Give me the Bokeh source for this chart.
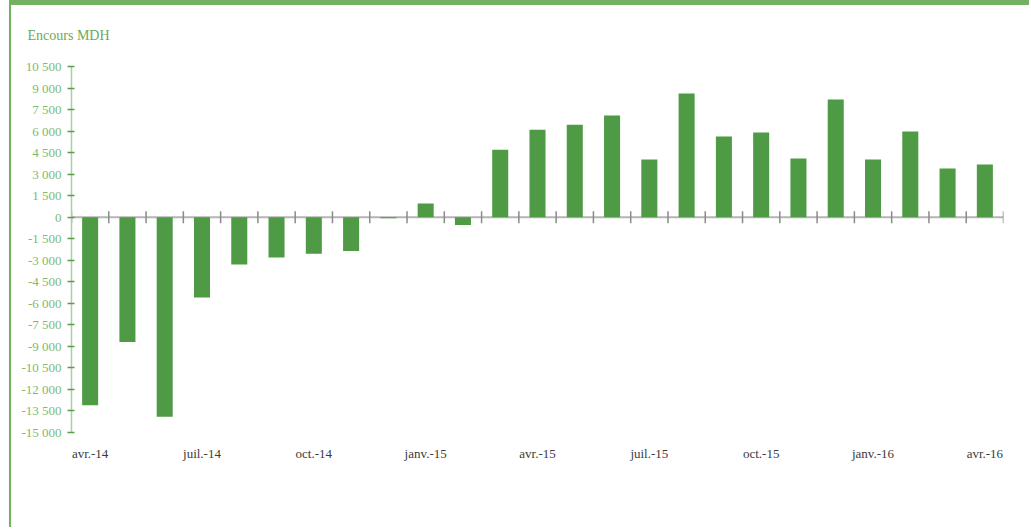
import math
from bokeh.plotting import figure
from bokeh.models import Range1d, FixedTicker, CustomJSTickFormatter, Span, ColumnDataSource
from bokeh.embed import file_html
from bokeh.resources import INLINE

months = ["avr.-14", "mai-14", "juin-14", "juil.-14", "août-14", "sept.-14", "oct.-14",
          "nov.-14", "déc.-14", "janv.-15", "févr.-15", "mars-15", "avr.-15", "mai-15",
          "juin-15", "juil.-15", "août-15", "sept.-15", "oct.-15", "nov.-15", "déc.-15",
          "janv.-16", "févr.-16", "mars-16", "avr.-16"]
encours = [-13100, -8700, -13900, -5600, -3300, -2800, -2550, -2350, -80, 950, -550,
           4700, 6100, 6450, 7090, 4020, 8620, 5620, 5900, 4090, 8200, 4020, 5970, 3390, 3670]
y_ticks = [-15000, -13500, -12000, -10500, -9000, -7500, -6000, -4500, -3000, -1500,
           0, 1500, 3000, 4500, 6000, 7500, 9000, 10500]
label_every = 3

n = len(months)
centers = [i + 0.5 for i in range(n)]
src = ColumnDataSource(dict(x=centers, top=encours, m=months))

p = figure(width=1020, height=527, output_backend="svg", toolbar_location=None,
           x_range=Range1d(0, n), y_range=Range1d(y_ticks[0], y_ticks[-1]),
           min_border_left=60, min_border_right=28, min_border_top=61, min_border_bottom=100,
           title="Encours MDH")
p.styles = {"margin-left": "9px", "border-top": "5px solid #72b062",
            "border-left": "2px solid #72b062"}
p.outline_line_color = None
p.xgrid.visible = False
p.ygrid.visible = False
p.background_fill_color = "white"
p.border_fill_color = "white"

p.title.text_font = "Liberation Serif"
p.title.text_font_size = "14px"
p.title.text_font_style = "normal"
p.title.text_color = "#6aaa5a"
p.title.align = "left"
p.title.vertical_align = "top"
p.title.offset = -44
p.title.standoff = 44

zero = Span(location=0, dimension="width", line_color="#b5b5b5", line_width=2, level="underlay")
p.add_layout(zero)
p.scatter(x=list(range(n + 1)), y=[0] * (n + 1), marker="dash", angle=math.pi / 2,
          size=12, line_color="#8a8a8a", line_width=1.5)

p.vbar(x="x", top="top", bottom=0, width=0.43, source=src, fill_color="#4f9a44",
       line_color=None)

# x axis
p.xaxis.ticker = FixedTicker(ticks=[centers[i] for i in range(0, n, label_every)])
p.xaxis.major_label_overrides = {centers[i]: months[i] for i in range(0, n, label_every)}
p.xaxis.axis_line_color = None
p.xaxis.major_tick_line_color = None
p.xaxis.minor_tick_line_color = None
p.xaxis.major_label_standoff = 7
p.xaxis.major_label_text_font = "Liberation Serif"
p.xaxis.major_label_text_font_size = "13px"
p.xaxis.major_label_text_color = "#3a3a3a"

# y axis
p.yaxis.ticker = FixedTicker(ticks=y_ticks)
p.yaxis.formatter = CustomJSTickFormatter(code="""
var s = Math.abs(tick).toFixed(0).replace(/\\B(?=(\\d{3})+(?!\\d))/g, ' ');
return (tick < 0 ? '-' : '') + s;
""")
p.yaxis.axis_line_color = "#a9d09f"
p.yaxis.axis_line_width = 1.5
p.yaxis.major_tick_line_color = "#5a9e4a"
p.yaxis.major_tick_line_width = 1.5
p.yaxis.major_tick_out = 4
p.yaxis.major_tick_in = 3
p.yaxis.minor_tick_line_color = None
p.yaxis.major_label_standoff = 6
p.yaxis.major_label_text_font = "Liberation Serif"
p.yaxis.major_label_text_font_size = "13px"
p.yaxis.major_label_text_color = "#7dbb6e"

open("out.html", "w").write(file_html(p, INLINE))
